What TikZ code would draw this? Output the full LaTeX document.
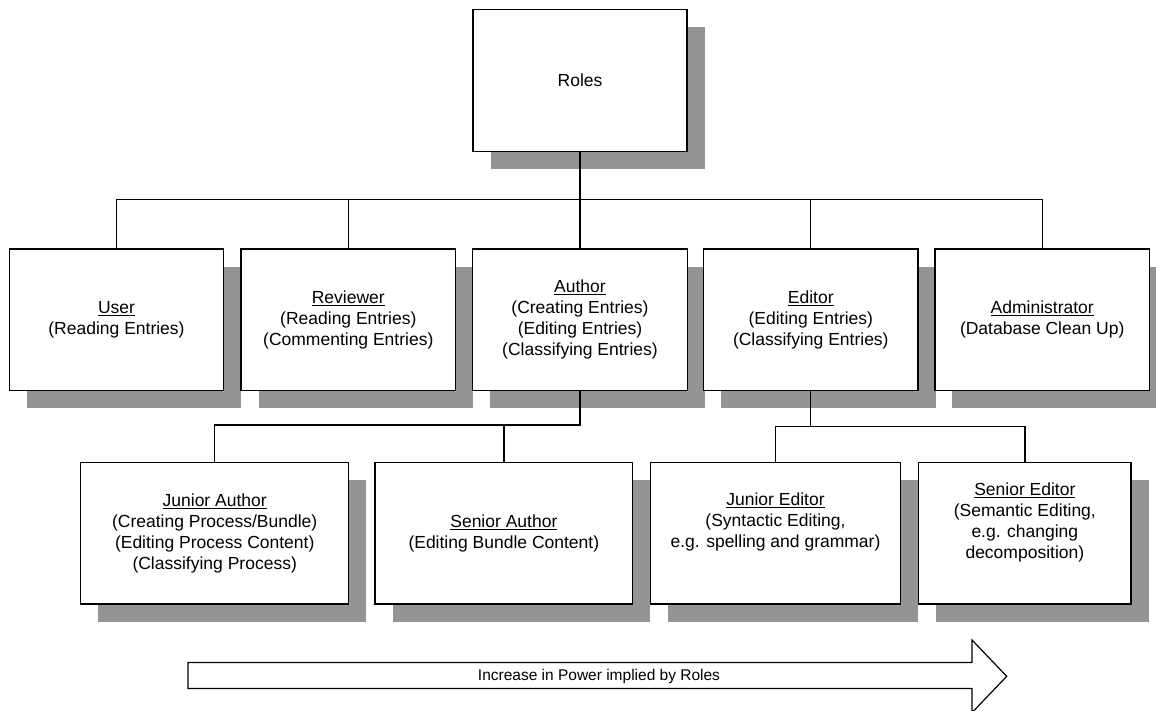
\documentclass[tikz,border=0pt]{standalone}
\usepackage{fontspec}
\setmainfont{Liberation Sans}
\usetikzlibrary{shadows}

\tikzset{
  rolebox/.style={draw, line width=1.4pt, fill=white, inner sep=0pt,
    align=center, font=\fontsize{17.5}{21}\selectfont,
    drop shadow={shadow xshift=17.5pt, shadow yshift=-17.5pt,
      fill=black!42, opacity=1}},
  toprow/.style={rolebox, minimum width=214.5pt, minimum height=141.5pt},
  link/.style={draw, line width=1.3pt},
  boxtext/.style={align=center, font=\fontsize{17.5}{21}\selectfont, inner sep=0pt},
}
\newcommand{\roletitle}[1]{\underline{#1}}

\begin{document}
\begin{tikzpicture}[x=1pt,y=-1pt]
  \useasboundingbox (0,0) rectangle (1156,710);

  % root
  \node[rolebox, minimum width=214pt, minimum height=142.5pt] (roles) at (580,80.5) {Roles};

  % first level
  \node[toprow] (user)     at (116.5,319.75) {\roletitle{User}\\(Reading Entries)};
  \node[toprow] (reviewer) at (348.3,319.75) {\roletitle{Reviewer}\\(Reading Entries)\\(Commenting Entries)};
  \node[toprow] (author)   at (580,319.75)   {\roletitle{Author}\\(Creating Entries)\\(Editing Entries)\\(Classifying Entries)};
  \node[toprow] (editor)   at (810.8,319.75) {\roletitle{Editor}\\(Editing Entries)\\(Classifying Entries)};
  \node[toprow] (admin)    at (1042.2,319.75) {\roletitle{Administrator}\\(Database Clean Up)};

  % second level
  \node[rolebox, minimum width=268pt, minimum height=141.5pt] (jauthor) at (214.7,533.25)
    {\roletitle{Junior Author}\\(Creating Process/Bundle)\\(Editing Process Content)\\(Classifying Process)};
  \node[rolebox, minimum width=257.7pt, minimum height=141.5pt] (sauthor) at (503.85,533.25)
    {\roletitle{Senior Author}\\(Editing Bundle Content)};
  \node[rolebox, minimum width=249.6pt, minimum height=141.5pt] (jeditor) at (775.5,533.25) {};
  \node[boxtext] (jeditortext) at ([yshift=11pt]jeditor.center)
    {\roletitle{Junior Editor}\\(Syntactic Editing,\\e.g. spelling and grammar)};
  \node[rolebox, minimum width=212.3pt, minimum height=141.5pt] (seditor) at (1024.85,533.25) {};
  \node[boxtext] (seditortext) at ([yshift=11pt]seditor.center)
    {\roletitle{Senior Editor}\\(Semantic Editing,\\e.g. changing\\decomposition)};

  % connectors
  \coordinate (topbus) at (580,199.3);
  \coordinate (authorbus) at (580,425);
  \coordinate (editorbus) at (810.8,426.7);

  \path[link] (roles.south) -- (author.north);
  \path[link] (user.north) |- (topbus) -| (admin.north);
  \path[link] (reviewer.north) -- (reviewer.north |- topbus);
  \path[link] (editor.north) -- (editor.north |- topbus);

  \path[link] (author.south) |- (jauthor.north |- authorbus) -- (jauthor.north);
  \path[link] (sauthor.north) -- (sauthor.north |- authorbus);

  \path[link] (editor.south) -- (editorbus);
  \path[link] (jeditor.north) |- (editorbus) -| (seditor.north);

  % power arrow
  \draw[line width=1.2pt, fill=white]
    (188,662.5) -- (972,662.5) -- (972,640) -- (1006.7,676.3)
    -- (972,712.6) -- (972,688.5) -- (188,688.5) -- cycle;
  \node[font=\fontsize{15.5}{18}\selectfont, inner sep=0pt] (power) at (599,676)
    {Increase in Power implied by Roles};
\end{tikzpicture}
\end{document}
